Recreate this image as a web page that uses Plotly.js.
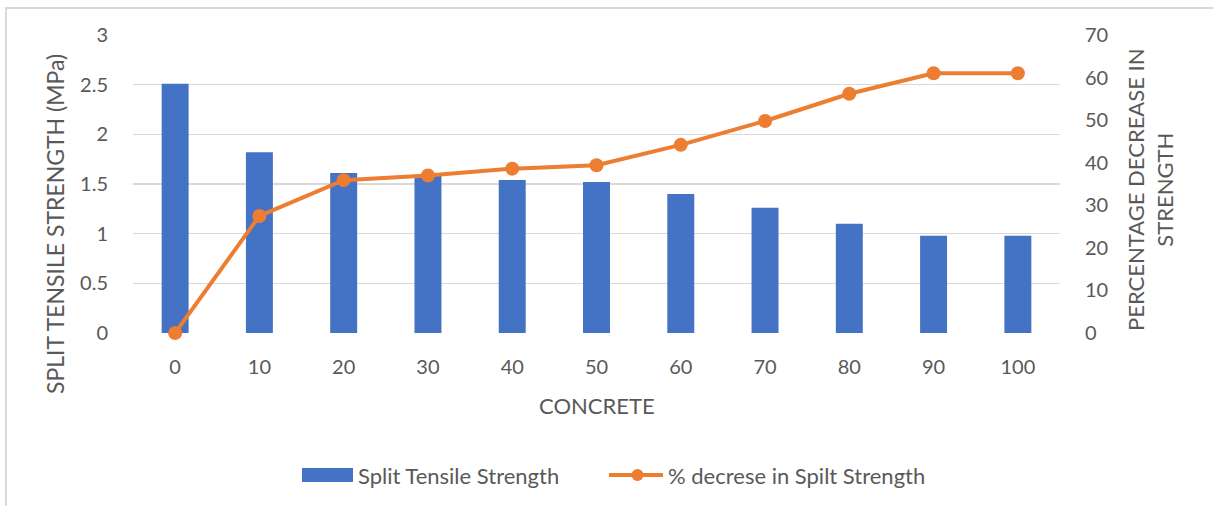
<!DOCTYPE html>
<html>
<head>
<meta charset="utf-8">
<script src="https://cdn.plot.ly/plotly-3.0.1.min.js"></script>
<style>
  html, body { margin: 0; padding: 0; background: #fff; }
  #chart { width: 1213px; height: 506px; position: absolute; left: 0; top: 0; }
  #frame { position: absolute; left: 5px; top: 7px; width: 1230px; height: 520px;
           border-left: 2px solid #d9d9d9; border-top: 2px solid #d9d9d9; pointer-events: none; }
</style>
</head>
<body>
<div id="chart"></div>
<div id="frame"></div>
<script>
const categories = ["0", "10", "20", "30", "40", "50", "60", "70", "80", "90", "100"];
const splitTensileStrength = [2.51, 1.82, 1.61, 1.58, 1.54, 1.52, 1.40, 1.26, 1.10, 0.98, 0.98];
const percentDecrease = [0, 27.5, 35.9, 37.0, 38.6, 39.4, 44.2, 49.8, 56.2, 61.0, 61.0];
const leftTicks = [0, 0.5, 1, 1.5, 2, 2.5, 3];
const rightTicks = [0, 10, 20, 30, 40, 50, 60, 70];
const seriesNames = ["Split Tensile Strength", "% decrese in Spilt Strength"];

const FONT = "Lato, 'Open Sans', sans-serif";
const GREY = "#595959";
const BLUE = "#4472c4";
const ORANGE = "#ed7d31";

// plot area geometry (pixels) for placing titles / legend
const W = 1213, H = 506, ML = 133, MR = 153, MT = 35, MB = 173;
const PW = W - ML - MR, PH = H - MT - MB;
const px = v => (v - ML) / PW;
const py = v => (H - MB - v) / PH;

const traces = [
  {
    type: "bar",
    name: seriesNames[0],
    x: categories,
    y: splitTensileStrength,
    marker: { color: BLUE },
    yaxis: "y",
    showlegend: false
  },
  {
    type: "scatter",
    mode: "lines+markers",
    name: seriesNames[1],
    x: categories,
    y: percentDecrease,
    line: { color: ORANGE, width: 4 },
    marker: { color: ORANGE, size: 14 },
    yaxis: "y2",
    showlegend: false,
    cliponaxis: false
  }
];

const layout = {
  width: W,
  height: H,
  margin: { l: ML, r: MR, t: MT, b: MB },
  paper_bgcolor: "rgba(0,0,0,0)",
  plot_bgcolor: "#ffffff",
  font: { family: FONT, color: GREY, size: 20 },
  bargap: 0.68,
  showlegend: false,
  xaxis: {
    type: "category",
    range: [-0.5, categories.length - 0.5],
    tickvals: categories,
    ticktext: categories,
    showgrid: false,
    showline: false,
    zeroline: false,
    automargin: false,
    ticks: "outside",
    ticklen: 16,
    tickcolor: "rgba(0,0,0,0)",
    tickfont: { size: 20, color: GREY }
  },
  yaxis: {
    range: [0, 3],
    tickvals: leftTicks,
    ticktext: leftTicks.map(String),
    showgrid: true,
    gridcolor: "#d9d9d9",
    gridwidth: 1.5,
    zeroline: false,
    showline: false,
    automargin: false,
    ticks: "outside",
    ticklen: 20,
    tickcolor: "rgba(0,0,0,0)",
    tickfont: { size: 20, color: GREY }
  },
  yaxis2: {
    range: [0, 70],
    tickvals: rightTicks,
    ticktext: rightTicks.map(String),
    overlaying: "y",
    side: "right",
    showgrid: false,
    zeroline: false,
    showline: false,
    automargin: false,
    ticks: "outside",
    ticklen: 20,
    tickcolor: "rgba(0,0,0,0)",
    tickfont: { size: 20, color: GREY }
  },
  annotations: [
    { text: "CONCRETE", xref: "paper", yref: "paper", x: px(597), y: py(405),
      xanchor: "center", yanchor: "middle", showarrow: false, font: { size: 22, color: GREY } },
    { text: "SPLIT TENSILE STRENGTH (MPa)", xref: "paper", yref: "paper", x: px(55), y: py(224),
      xanchor: "center", yanchor: "middle", textangle: -90, showarrow: false, font: { size: 23, color: GREY } },
    { text: "PERCENTAGE DECREASE IN<br>STRENGTH", xref: "paper", yref: "paper", x: px(1150), y: py(190),
      xanchor: "center", yanchor: "middle", textangle: -90, showarrow: false, font: { size: 22, color: GREY } },
    { text: seriesNames[0], xref: "paper", yref: "paper", x: px(356), y: py(475),
      xanchor: "left", yanchor: "middle", showarrow: false, font: { size: 22, color: GREY } },
    { text: seriesNames[1], xref: "paper", yref: "paper", x: px(666), y: py(475),
      xanchor: "left", yanchor: "middle", showarrow: false, font: { size: 22, color: GREY } }
  ],
  shapes: [
    { type: "rect", xref: "paper", yref: "paper", x0: px(302), x1: px(353), y0: py(482), y1: py(468),
      fillcolor: BLUE, line: { width: 0 } },
    { type: "line", xref: "paper", yref: "paper", x0: px(609), x1: px(663), y0: py(475), y1: py(475),
      line: { color: ORANGE, width: 4 } },
    { type: "circle", xref: "paper", yref: "paper", x0: px(631.5), x1: px(643.5), y0: py(481), y1: py(469),
      fillcolor: ORANGE, line: { width: 0 } }
  ]
};

Plotly.newPlot("chart", traces, layout, { displayModeBar: false, staticPlot: true });
</script>
</body>
</html>
